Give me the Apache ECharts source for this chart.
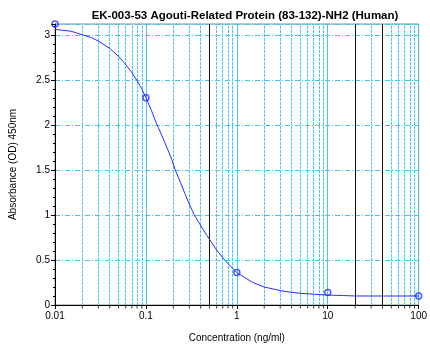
<!DOCTYPE html>
<html>
<head>
<meta charset="utf-8">
<script src="https://cdn.jsdelivr.net/npm/echarts@6/dist/echarts.min.js"></script>
<style>
  html, body { margin: 0; padding: 0; background: #fff; }
  #chart { width: 430px; height: 348px; }
</style>
</head>
<body>
<div id="chart"></div>
<script>
// Standard curve: measured points
const concentrations = [0.01, 0.1, 1, 10, 100];
const absorbance = [3.12, 2.30, 0.36, 0.14, 0.10];

// Fitted curve as traced through the standards
const curveX = [0.01, 0.015, 0.02, 0.025, 0.03, 0.04, 0.05, 0.06, 0.07, 0.08, 0.09, 0.1, 0.115, 0.13, 0.15, 0.17, 0.19, 0.21, 0.24, 0.27, 0.3, 0.34, 0.38, 0.43, 0.5, 0.6, 0.72, 0.85, 1, 1.2, 1.5, 2, 3, 4, 5, 7, 10, 15, 20, 50, 100];
const curveY = [3.06, 3.04, 3.00, 2.97, 2.93, 2.85, 2.76, 2.67, 2.58, 2.49, 2.40, 2.30, 2.16, 2.02, 1.88, 1.75, 1.63, 1.50, 1.36, 1.23, 1.12, 1.00, 0.92, 0.83, 0.73, 0.61, 0.51, 0.43, 0.36, 0.31, 0.25, 0.20, 0.16, 0.14, 0.13, 0.12, 0.11, 0.105, 0.10, 0.10, 0.10];

// Axis layout values
const xMin = 0.01, xMax = 100;
const yMin = 0, yMax = 3.12, yStep = 0.5;

// Log-scale intermediate grid lines (2..9 of each decade, plus inner decades)
const minorGridX = [
  0.02, 0.03, 0.04, 0.05, 0.06, 0.07, 0.08, 0.09, 0.1,
  0.2, 0.3, 0.4, 0.6, 0.7, 0.8, 0.9, 1,
  2, 3, 4, 5, 6, 7, 8, 9, 10,
  30, 50, 60, 70, 80, 90
];
// Dark reference lines
const darkGridX = [0.5, 20, 40];
// Minor tick marks along the x axis
const minorTickX = [
  0.02, 0.03, 0.04, 0.05, 0.06, 0.07, 0.08, 0.09,
  0.2, 0.3, 0.4, 0.5, 0.6, 0.7, 0.8, 0.9,
  2, 3, 4, 5, 6, 7, 8, 9,
  20, 30, 40, 50, 60, 70, 80, 90
];

const FONT = '"Liberation Sans", Arial, sans-serif';
const BLUE = '#2b2bff';
const CYAN = '#45c6ee';

const chart = echarts.init(document.getElementById('chart'), null, { renderer: 'canvas' });

chart.setOption({
  animation: false,
  backgroundColor: '#ffffff',
  textStyle: { fontFamily: FONT },
  title: {
    text: 'EK-003-53 Agouti-Related Protein (83-132)-NH2 (Human)',
    left: 240,
    top: 5,
    textAlign: 'center',
    textStyle: { fontFamily: FONT, fontSize: 11.5, fontWeight: 'bold', color: '#000' }
  },
  grid: {
    left: 54, right: 9, top: 24, bottom: 43,
    show: true, borderColor: '#8a8a8a', borderWidth: 1, backgroundColor: 'transparent'
  },
  xAxis: {
    type: 'log',
    logBase: 10,
    min: xMin,
    max: xMax,
    name: 'Concentration (ng/ml)',
    nameLocation: 'middle',
    nameGap: 28,
    nameTextStyle: { fontFamily: FONT, fontSize: 10, color: '#000' },
    axisLine: { show: true, onZero: false, lineStyle: { color: '#000', width: 1 } },
    axisTick: { show: true, length: 4, lineStyle: { color: '#000' } },
    axisLabel: { fontFamily: FONT, fontSize: 10, color: '#000', margin: 6 },
    splitLine: { show: true, lineStyle: { color: CYAN, width: 1, type: [3, 1] } }
  },
  yAxis: {
    type: 'value',
    min: yMin,
    max: yMax,
    interval: yStep,
    name: 'Absorbance (OD) 450nm',
    nameLocation: 'middle',
    nameGap: 37,
    nameRotate: 90,
    nameTextStyle: { fontFamily: FONT, fontSize: 10, color: '#000' },
    axisLine: { show: true, lineStyle: { color: '#000', width: 1 } },
    axisTick: { show: true, length: 4, lineStyle: { color: '#000' } },
    minorTick: { show: true, splitNumber: 5, length: 2, lineStyle: { color: '#000' } },
    axisLabel: { fontFamily: FONT, fontSize: 10, color: '#000', margin: 5, showMaxLabel: false },
    splitLine: { show: true, lineStyle: { color: CYAN, width: 1, type: [5, 2, 1, 2] } }
  },
  series: [
    {
      // vertical grid lines
      type: 'line',
      data: [],
      silent: true,
      markLine: {
        silent: true,
        symbol: 'none',
        label: { show: false },
        animation: false,
        lineStyle: { color: CYAN, width: 1, type: [3, 1] },
        data: minorGridX.map(v => ({ xAxis: v }))
      }
    },
    {
      type: 'line',
      data: [],
      silent: true,
      markLine: {
        silent: true,
        symbol: 'none',
        label: { show: false },
        animation: false,
        lineStyle: { color: '#111', width: 1, type: 'solid' },
        data: darkGridX.map(v => ({ xAxis: v }))
      }
    },
    {
      // minor tick marks below the x axis
      type: 'scatter',
      silent: true,
      clip: false,
      symbol: 'rect',
      symbolSize: [1, 3],
      symbolOffset: [0, 2],
      itemStyle: { color: '#000' },
      data: minorTickX.map(v => [v, yMin])
    },
    {
      name: 'curve',
      type: 'line',
      smooth: false,
      showSymbol: false,
      symbol: 'none',
      lineStyle: { color: BLUE, width: 1 },
      data: curveX.map((x, i) => [x, curveY[i]]),
      z: 5
    },
    {
      name: 'standards',
      type: 'scatter',
      clip: false,
      symbol: 'circle',
      symbolSize: 6,
      itemStyle: { color: 'rgba(255,255,255,0)', borderColor: BLUE, borderWidth: 1.5 },
      data: concentrations.map((x, i) => [x, absorbance[i]]),
      z: 6
    }
  ]
});
</script>
</body>
</html>
